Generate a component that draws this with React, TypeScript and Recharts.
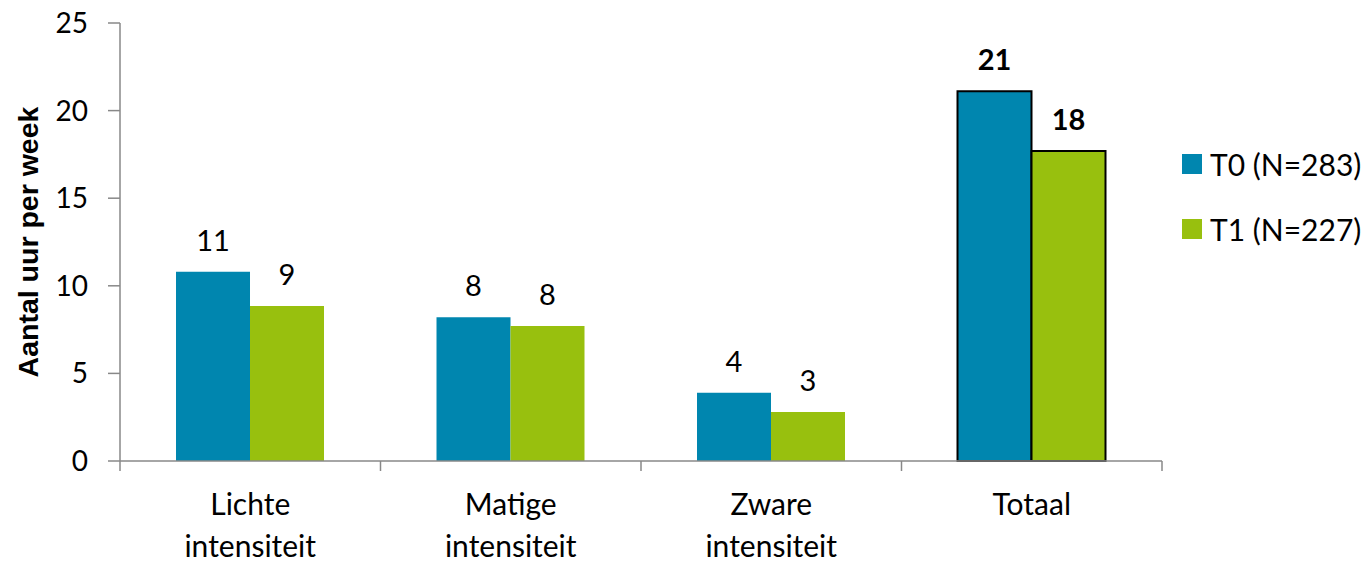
import React from "react";
import { BarChart, Bar, XAxis, YAxis, Cell, LabelList, Legend } from "recharts";

const categories = ["Lichte intensiteit", "Matige intensiteit", "Zware intensiteit", "Totaal"];
const t0Values = [10.8, 8.2, 3.9, 21.1];
const t1Values = [8.85, 7.7, 2.8, 17.7];
const yTicks = [0, 5, 10, 15, 20, 25];
const seriesNames = ["T0 (N=283)", "T1 (N=227)"];
const seriesColors = ["#0086AF", "#98C00E"];

const data = categories.map((name, i) => ({ name, t0: t0Values[i], t1: t1Values[i] }));

const FONT = "Lato, 'Open Sans', sans-serif";
const AXIS_GRAY = "#888888";
const TOTAL_INDEX = categories.length - 1;

const CategoryTick = (props: any) => {
  const { x, y, payload, index } = props;
  const half = payload.offset || 0;
  const lines = String(payload.value).split(" ");
  return (
    <g>
      <line x1={x - half} y1={y} x2={x - half} y2={y + 10} stroke={AXIS_GRAY} strokeWidth={1.5} />
      {index === categories.length - 1 && (
        <line x1={x + half} y1={y} x2={x + half} y2={y + 10} stroke={AXIS_GRAY} strokeWidth={1.5} />
      )}
      {lines.map((line, i) => (
        <text key={i} x={x} y={y + 54 + i * 42} textAnchor="middle" fontFamily={FONT} fontSize={30} fill="#000">
          {line}
        </text>
      ))}
    </g>
  );
};

const ValueLabel = (props: any) => {
  const { x, y, width, value, index } = props;
  return (
    <text
      x={x + width / 2}
      y={y - 21}
      textAnchor="middle"
      fontFamily={FONT}
      fontSize={29}
      fontWeight={index === TOTAL_INDEX ? 700 : 400}
      fill="#000"
    >
      {Math.round(value)}
    </text>
  );
};

const YTitle = (props: any) => {
  const { viewBox } = props;
  const cx = viewBox.x - 32;
  const cy = viewBox.y + viewBox.height / 2;
  return (
    <text
      x={cx}
      y={cy}
      transform={`rotate(-90, ${cx}, ${cy})`}
      textAnchor="middle"
      dominantBaseline="central"
      fontFamily="'Liberation Sans', Arial, sans-serif"
      fontWeight={700}
      fontSize={28.5}
      fill="#000"
    >
      Aantal uur per week
    </text>
  );
};

const renderLegend = () => (
  <div style={{ fontFamily: FONT, fontSize: 30, color: "#000" }}>
    {seriesNames.map((name, i) => (
      <div key={name} style={{ display: "flex", alignItems: "center", height: 40, marginBottom: 25 }}>
        <span style={{ width: 20, height: 20, background: seriesColors[i], marginRight: 8 }} />
        {name}
      </div>
    ))}
  </div>
);

export default function App() {
  return (
    <div style={{ position: "absolute", left: 0, top: 0, width: 1370, height: 562, background: "#fff" }}>
      <BarChart
        width={1370}
        height={562}
        data={data}
        margin={{ top: 23, right: 208, bottom: 0, left: 60 }}
        barCategoryGap="21.5%"
        barGap={0}
      >
        <XAxis
          dataKey="name"
          height={101}
          axisLine={{ stroke: AXIS_GRAY, strokeWidth: 1.5 }}
          tickLine={false}
          tickSize={0}
          tickMargin={0}
          interval={0}
          tick={<CategoryTick />}
        />
        <YAxis
          width={60}
          domain={[0, 25]}
          ticks={yTicks}
          interval={0}
          axisLine={{ stroke: AXIS_GRAY, strokeWidth: 1.5 }}
          tickLine={{ stroke: AXIS_GRAY, strokeWidth: 1.5 }}
          tickSize={12}
          tickMargin={20}
          tick={{ fontFamily: FONT, fontSize: 28, fill: "#000" }}
          label={<YTitle />}
        />
        <Legend
          layout="horizontal"
          align="center"
          verticalAlign="middle"
          content={renderLegend}
          wrapperStyle={{ position: "absolute", left: 1182, top: 144, width: 190, height: 130 }}
        />
        <Bar dataKey="t0" name={seriesNames[0]} fill={seriesColors[0]} isAnimationActive={false}>
          {data.map((_, i) => (
            <Cell
              key={`t0-${i}`}
              fill={seriesColors[0]}
              stroke={i === TOTAL_INDEX ? "#000" : "none"}
              strokeWidth={i === TOTAL_INDEX ? 2 : 0}
            />
          ))}
          <LabelList dataKey="t0" content={<ValueLabel />} />
        </Bar>
        <Bar dataKey="t1" name={seriesNames[1]} fill={seriesColors[1]} isAnimationActive={false}>
          {data.map((_, i) => (
            <Cell
              key={`t1-${i}`}
              fill={seriesColors[1]}
              stroke={i === TOTAL_INDEX ? "#000" : "none"}
              strokeWidth={i === TOTAL_INDEX ? 2 : 0}
            />
          ))}
          <LabelList dataKey="t1" content={<ValueLabel />} />
        </Bar>
      </BarChart>
    </div>
  );
}
